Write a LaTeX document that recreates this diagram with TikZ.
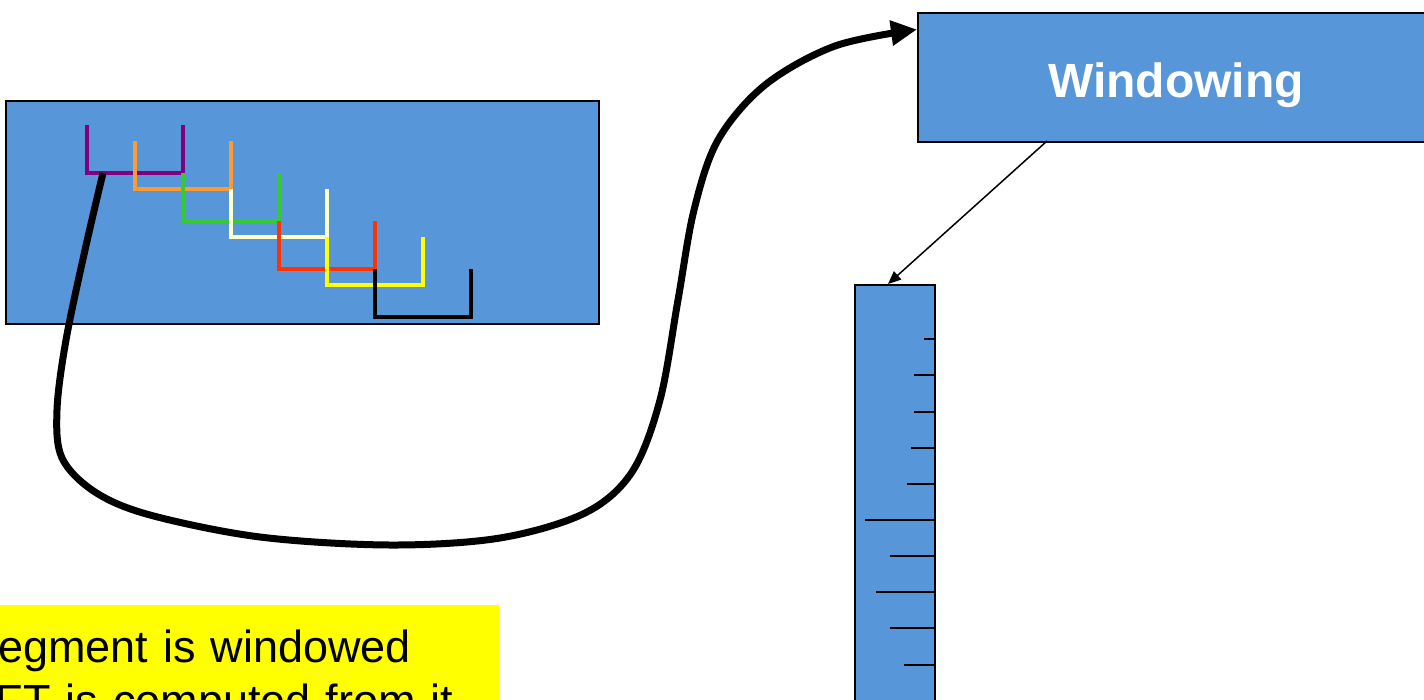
\documentclass[tikz,border=0pt]{standalone}
\usepackage{fontspec}
\setmainfont{Liberation Sans}
\usetikzlibrary{arrows.meta}
\definecolor{boxblue}{RGB}{88,150,218}
\definecolor{upurple}{RGB}{128,0,128}
\definecolor{uorange}{RGB}{255,153,51}
\definecolor{ugreen}{RGB}{51,204,51}
\definecolor{ucream}{RGB}{255,255,204}
\definecolor{ured}{RGB}{255,51,0}
\definecolor{uyellow}{RGB}{255,255,0}
\tikzset{
  bluebox/.style={draw=black, line width=2pt, fill=boxblue, inner sep=0pt},
  ushape/.style={line width=4.5pt},
  tick/.style={line width=1.5pt},
  bigflow/.style={line width=7pt, -{Triangle[length=26pt,width=24pt]}},
  thinflow/.style={line width=1.5pt, -{Triangle[length=13pt,width=11pt]}},
}
\begin{document}
\begin{tikzpicture}[x=1pt,y=-1pt]
\useasboundingbox (0,0) rectangle (1424,699);
% left segment box
\node[bluebox, minimum width=593pt, minimum height=223pt] (seg) at (302.5,212.5) {};
% U shapes
\draw[ushape, upurple] (87,125) -- (87,173) -- (183,173) -- (183,125);
\draw[ushape, uorange] (135,141) -- (135,189) -- (231,189) -- (231,141);
\draw[ushape, ugreen]  (183,173) -- (183,221) -- (279,221) -- (279,173);
\draw[ushape, ucream]  (231,189) -- (231,237) -- (327,237) -- (327,189);
\draw[ushape, ured]    (279,221) -- (279,269) -- (375,269) -- (375,221);
\draw[ushape, uyellow] (327,237) -- (327,285) -- (423,285) -- (423,237);
\draw[ushape, black]   (375,269) -- (375,317) -- (471,317) -- (471,269);
% windowing box
\node[bluebox, minimum width=516pt, minimum height=129pt, text=white,
      font=\fontsize{48}{52}\selectfont\bfseries] (win) at (1176,77) {\raisebox{-20pt}[0pt][0pt]{Windowing}};
% spectrum bar
\node[bluebox, minimum width=80pt, minimum height=440pt] (bar) at (895,505) {};
\foreach \y/\x in {339/924,375/914,412/914,448/911,484/907,520/865,556/890,592/876,628/890,665/904}
  \draw[tick] (\x,\y) -- (935,\y);
% yellow note
\node[anchor=north west, fill=uyellow, inner xsep=0pt, inner ysep=0pt,
      text width=531pt, align=left,
      font=\fontsize{45}{54}\selectfont] (note) at (-32,605)
  {\rule{0pt}{57pt}Segment is windowed\\FFT is computed from it\rule[-30pt]{0pt}{30pt}};
% connectors
\coordinate (start) at (103,173);
\coordinate (winin) at ([yshift=-18pt]win.north west);
\draw[bigflow] plot[smooth, tension=0.55] coordinates {(start) (85,250) (66,340) (57,410) (62,458) (95,492) (150,515) (260,537) (390,545) (500,538) (585,513) (632,472) (660,400) (678,300) (694,210) (718,140) (765,85) (835,46) (winin)};
\coordinate (winout) at (1047,141);
\draw[thinflow] (winout) -- (bar.north -| 888,0);
\end{tikzpicture}
\end{document}
